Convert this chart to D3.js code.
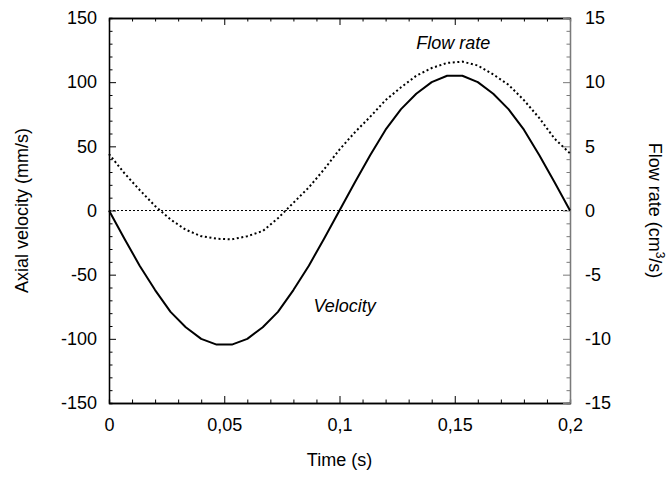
<!DOCTYPE html>
<html lang="en">
<head>
  <meta charset="UTF-8">
  <title>Axial velocity and flow rate</title>
  <script src="https://d3js.org/d3.v7.min.js"></script>
  <style>
    body {
      margin: 0;
      background: #fff;
    }
    svg {
      display: block;
      font-family: "Liberation Sans", Arial, sans-serif;
    }
    .tick text {
      font-size: 18px;
      fill: #000;
    }
    .title {
      font-size: 18px;
      fill: #000;
    }
  </style>
</head>
<body>
  <svg id="chart" width="671" height="477"></svg>

  <script>
    // time samples (s), one every 1/150 s
    const time = [0, 0.0067, 0.0133, 0.02, 0.0267, 0.0333, 0.04, 0.0467, 0.0533, 0.06,
      0.0667, 0.0733, 0.08, 0.0867, 0.0933, 0.1, 0.1067, 0.1133, 0.12, 0.1267,
      0.1333, 0.14, 0.1467, 0.1533, 0.16, 0.1667, 0.1733, 0.18, 0.1867, 0.1933, 0.2];

    // axial velocity (mm/s), left axis
    const velocity = [0, -22, -43, -62, -79, -91, -100, -104.5, -104.5, -100,
      -91, -79, -62, -43, -22, 0, 22, 43, 63, 79,
      91, 100, 105, 105, 100, 91, 79, 63, 43, 22, 0];

    // flow rate (cm3/s), right axis
    const flowRate = [4.4, 2.9, 1.6, 0.35, -0.7, -1.5, -2.0, -2.2, -2.25, -2.0,
      -1.6, -0.6, 0.6, 1.8, 3.2, 4.75, 6.1, 7.3, 8.6, 9.6,
      10.5, 11.1, 11.5, 11.6, 11.3, 10.6, 9.8, 8.6, 7.2, 5.6, 4.45];

    const xTicks = [0, 0.05, 0.1, 0.15, 0.2];
    const xTickLabels = ["0", "0,05", "0,1", "0,15", "0,2"];
    const xMinor = [0.01, 0.02, 0.03, 0.04, 0.06, 0.07, 0.08, 0.09, 0.11, 0.12, 0.13, 0.14, 0.16, 0.17, 0.18, 0.19];
    const leftTicks = [-150, -100, -50, 0, 50, 100, 150];
    const rightTicks = [-15, -10, -5, 0, 5, 10, 15];

    const margin = { top: 18, right: 101, bottom: 74, left: 109 };
    const width = 671 - margin.left - margin.right;
    const height = 477 - margin.top - margin.bottom;

    const svg = d3.select("#chart")
      .append("g")
      .attr("transform", `translate(${margin.left},${margin.top})`);

    const x = d3.scaleLinear().domain([0, 0.2]).range([0, width]);
    const yL = d3.scaleLinear().domain([-150, 150]).range([height, 0]);
    const yR = d3.scaleLinear().domain([-15, 15]).range([height, 0]);

    const minorL = d3.range(-150, 151, 10).filter(v => v % 50 !== 0);
    const minorR = d3.range(-15, 15.1, 1).filter(v => v % 5 !== 0);

    // plain hyphen for negatives, like the original
    const plain = d => String(d);

    // minor ticks (inward, short)
    svg.append("g").attr("transform", `translate(0,${height})`)
      .call(d3.axisBottom(x).tickValues(xMinor).tickSize(-3.5).tickFormat(""));
    svg.append("g")
      .call(d3.axisTop(x).tickValues(xMinor).tickSize(-3.5).tickFormat(""));
    svg.append("g")
      .call(d3.axisLeft(yL).tickValues(minorL).tickSize(-3.5).tickFormat(""));
    svg.append("g").attr("class", "right-minor").attr("transform", `translate(${width},0)`)
      .call(d3.axisRight(yR).tickValues(minorR).tickSize(-3.5).tickFormat(""));

    // major ticks + labels
    svg.append("g").attr("transform", `translate(0,${height})`)
      .call(d3.axisBottom(x).tickValues(xTicks).tickSize(-7).tickSizeOuter(0)
        .tickPadding(15).tickFormat((d, i) => xTickLabels[i]));
    svg.append("g")
      .call(d3.axisTop(x).tickValues(xTicks).tickSize(-7).tickSizeOuter(0).tickFormat(""));
    svg.append("g")
      .call(d3.axisLeft(yL).tickValues(leftTicks).tickSize(-7).tickSizeOuter(0)
        .tickPadding(12).tickFormat(plain));
    svg.append("g").attr("class", "right-major").attr("transform", `translate(${width},0)`)
      .call(d3.axisRight(yR).tickValues(rightTicks).tickSize(-7).tickSizeOuter(0)
        .tickPadding(15).tickFormat(plain));

    svg.selectAll(".domain").attr("stroke", "#000").attr("stroke-width", 1.3);
    svg.selectAll(".tick line").attr("stroke", "#000");
    svg.selectAll(".right-minor .domain, .right-major .domain, .right-minor .tick line, .right-major .tick line")
      .attr("stroke", "#7a7a7a");

    // zero reference line
    svg.append("line")
      .attr("x1", x(0)).attr("x2", x(0.2))
      .attr("y1", yL(0)).attr("y2", yL(0))
      .attr("stroke", "#000")
      .attr("stroke-width", 1)
      .attr("stroke-dasharray", "2,2");

    // flow rate (dotted)
    const flowLine = d3.line()
      .x((d, i) => x(time[i]))
      .y(d => yR(d));
    svg.append("path")
      .datum(flowRate)
      .attr("fill", "none")
      .attr("stroke", "#000")
      .attr("stroke-width", 2)
      .attr("stroke-dasharray", "2,2.6")
      .attr("d", flowLine);

    // velocity (solid)
    const velLine = d3.line()
      .x((d, i) => x(time[i]))
      .y(d => yL(d));
    svg.append("path")
      .datum(velocity)
      .attr("fill", "none")
      .attr("stroke", "#000")
      .attr("stroke-width", 2)
      .attr("stroke-linejoin", "round")
      .attr("d", velLine);

    // curve labels
    svg.append("text")
      .attr("class", "title")
      .attr("x", x(0.1333))
      .attr("y", yL(126))
      .attr("font-style", "italic")
      .text("Flow rate");

    svg.append("text")
      .attr("class", "title")
      .attr("x", x(0.0887))
      .attr("y", yL(-79))
      .attr("font-style", "italic")
      .text("Velocity");

    // axis titles
    svg.append("text")
      .attr("class", "title")
      .attr("text-anchor", "middle")
      .attr("x", width / 2)
      .attr("y", height + 63)
      .text("Time (s)");

    svg.append("text")
      .attr("class", "title")
      .attr("text-anchor", "middle")
      .attr("transform", "rotate(-90)")
      .attr("x", -height / 2)
      .attr("y", -81)
      .text("Axial velocity (mm/s)");

    const rTitle = svg.append("text")
      .attr("class", "title")
      .attr("text-anchor", "middle")
      .attr("transform", `translate(${width + 79},${height / 2}) rotate(90)`);
    rTitle.append("tspan").text("Flow rate (cm");
    rTitle.append("tspan").attr("baseline-shift", "super").attr("font-size", "12px").text("3");
    rTitle.append("tspan").text("/s)");
  </script>
</body>
</html>
